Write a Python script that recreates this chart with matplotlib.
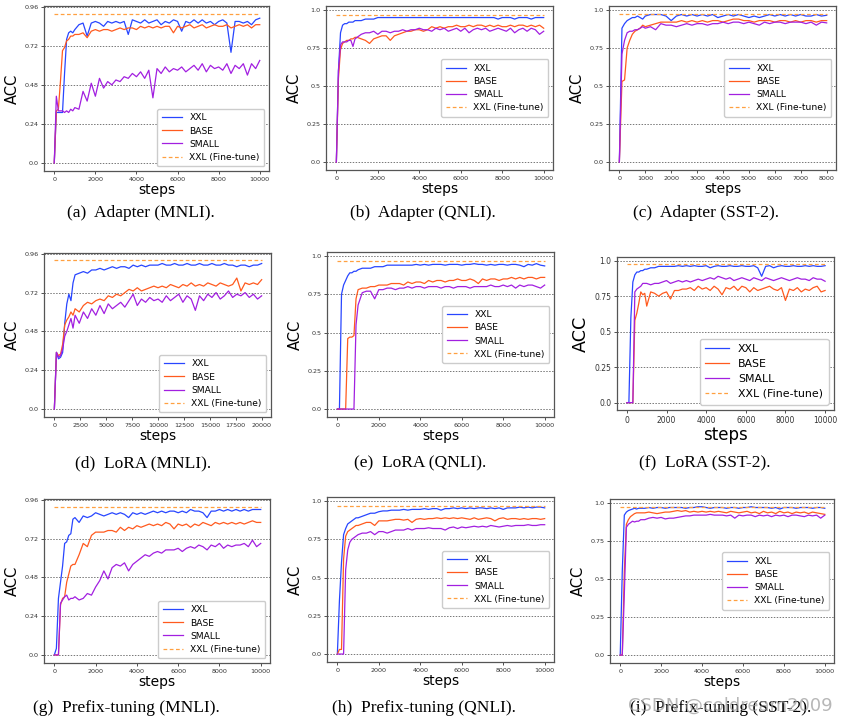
import matplotlib.pyplot as plt

# training steps (finer at the start)
STEPS_10K = list(range(0, 1000, 100)) + list(range(1000, 10001, 200))
STEPS_8K = list(range(0, 1000, 100)) + list(range(1000, 8001, 200))
STEPS_20K = list(range(0, 2000, 200)) + list(range(2000, 20001, 400))

LABELS = ['XXL', 'BASE', 'SMALL', 'XXL (Fine-tune)']
COLORS = ['#2846ff', '#ff5a1e', '#a21fe0', '#ffa040']

# (a) Adapter (MNLI)
a_xxl = [0.0, 0.31, 0.31, 0.31, 0.31, 0.55, 0.76, 0.80, 0.81, 0.80,
         0.82, 0.85, 0.86, 0.78, 0.86, 0.87, 0.86, 0.84, 0.87, 0.86,
         0.87, 0.86, 0.87, 0.79, 0.88, 0.87, 0.86, 0.88, 0.86, 0.87,
         0.88, 0.85, 0.87, 0.86, 0.88, 0.87, 0.81, 0.87, 0.86, 0.88,
         0.86, 0.88, 0.86, 0.87, 0.85, 0.87, 0.88, 0.86, 0.68, 0.87,
         0.87, 0.86, 0.87, 0.85, 0.88, 0.89]
a_base = [0.0, 0.32, 0.33, 0.50, 0.69, 0.71, 0.75, 0.76, 0.78, 0.78,
          0.79, 0.79, 0.80, 0.77, 0.81, 0.82, 0.81, 0.82, 0.82, 0.81,
          0.82, 0.83, 0.82, 0.83, 0.83, 0.82, 0.84, 0.83, 0.84, 0.83,
          0.84, 0.83, 0.84, 0.84, 0.80, 0.84, 0.83, 0.84, 0.85, 0.83,
          0.84, 0.85, 0.83, 0.84, 0.85, 0.84, 0.84, 0.85, 0.83, 0.84,
          0.85, 0.84, 0.85, 0.83, 0.85, 0.85]
a_small = [0.0, 0.41, 0.32, 0.32, 0.32, 0.31, 0.32, 0.31, 0.33, 0.32,
           0.34, 0.33, 0.44, 0.38, 0.49, 0.41, 0.52, 0.46, 0.50, 0.48,
           0.51, 0.50, 0.53, 0.52, 0.55, 0.53, 0.56, 0.52, 0.57, 0.40,
           0.58, 0.55, 0.59, 0.56, 0.58, 0.57, 0.59, 0.56, 0.58, 0.60,
           0.57, 0.61, 0.56, 0.60, 0.58, 0.59, 0.57, 0.61, 0.55, 0.60,
           0.58, 0.61, 0.54, 0.61, 0.58, 0.63]
a_ft = 0.913

# (b) Adapter (QNLI)
b_xxl = [0.0, 0.60, 0.85, 0.90, 0.91, 0.91, 0.92, 0.92, 0.92, 0.93,
         0.93, 0.93, 0.94, 0.94, 0.94, 0.95, 0.95, 0.95, 0.95, 0.95,
         0.95, 0.95, 0.95, 0.95, 0.95, 0.95, 0.95, 0.95, 0.95, 0.95,
         0.95, 0.95, 0.95, 0.95, 0.95, 0.95, 0.95, 0.95, 0.95, 0.95,
         0.95, 0.95, 0.95, 0.95, 0.94, 0.95, 0.95, 0.95, 0.94, 0.95,
         0.95, 0.95, 0.94, 0.95, 0.95, 0.95]
b_base = [0.0, 0.55, 0.74, 0.78, 0.79, 0.80, 0.80, 0.81, 0.81, 0.82,
          0.82, 0.81, 0.80, 0.78, 0.81, 0.82, 0.83, 0.83, 0.80, 0.83,
          0.84, 0.85, 0.86, 0.86, 0.87, 0.87, 0.86, 0.87, 0.89, 0.88,
          0.89, 0.88, 0.89, 0.89, 0.90, 0.89, 0.89, 0.90, 0.89, 0.90,
          0.90, 0.89, 0.90, 0.89, 0.90, 0.89, 0.89, 0.90, 0.89, 0.90,
          0.90, 0.89, 0.90, 0.89, 0.90, 0.88]
b_small = [0.0, 0.60, 0.77, 0.79, 0.79, 0.79, 0.80, 0.80, 0.76, 0.81,
           0.82, 0.84, 0.85, 0.85, 0.86, 0.84, 0.86, 0.86, 0.85, 0.86,
           0.86, 0.87, 0.86, 0.87, 0.87, 0.88, 0.87, 0.87, 0.86, 0.88,
           0.87, 0.88, 0.86, 0.87, 0.88, 0.86, 0.88, 0.85, 0.87, 0.88,
           0.87, 0.88, 0.86, 0.87, 0.88, 0.87, 0.86, 0.88, 0.85, 0.87,
           0.88, 0.86, 0.88, 0.87, 0.84, 0.86]
b_ft = 0.967

# (c) Adapter (SST-2)
c_xxl = [0.0, 0.88, 0.91, 0.93, 0.94, 0.95, 0.95, 0.96, 0.95, 0.94,
         0.96, 0.97, 0.97, 0.97, 0.96, 0.93, 0.96, 0.97, 0.96, 0.97,
         0.96, 0.97, 0.96, 0.97, 0.95, 0.96, 0.97, 0.96, 0.97, 0.96,
         0.95, 0.96, 0.95, 0.96, 0.97, 0.96, 0.97, 0.96, 0.97, 0.96,
         0.97, 0.96, 0.96, 0.97, 0.96, 0.965]
c_base = [0.0, 0.53, 0.54, 0.75, 0.80, 0.84, 0.86, 0.87, 0.88, 0.90,
          0.89, 0.90, 0.91, 0.92, 0.92, 0.92, 0.92, 0.93, 0.92, 0.93,
          0.92, 0.93, 0.92, 0.93, 0.93, 0.92, 0.93, 0.94, 0.94, 0.93,
          0.93, 0.92, 0.93, 0.93, 0.93, 0.92, 0.93, 0.93, 0.92, 0.93,
          0.92, 0.93, 0.93, 0.92, 0.93, 0.93]
c_small = [0.0, 0.71, 0.80, 0.85, 0.86, 0.86, 0.87, 0.87, 0.88, 0.89,
           0.88, 0.89, 0.87, 0.91, 0.90, 0.90, 0.89, 0.90, 0.91, 0.90,
           0.91, 0.91, 0.90, 0.91, 0.91, 0.92, 0.91, 0.92, 0.92, 0.91,
           0.92, 0.91, 0.90, 0.92, 0.91, 0.92, 0.92, 0.91, 0.92, 0.92,
           0.92, 0.91, 0.92, 0.90, 0.92, 0.915]
c_ft = 0.974

# (d) LoRA (MNLI)
d_xxl = [0.0, 0.35, 0.31, 0.32, 0.35, 0.53, 0.65, 0.71, 0.67, 0.78,
         0.83, 0.84, 0.85, 0.84, 0.86, 0.86, 0.87, 0.86, 0.87, 0.88,
         0.87, 0.88, 0.88, 0.87, 0.89, 0.88, 0.89, 0.88, 0.89, 0.89,
         0.89, 0.90, 0.89, 0.89, 0.90, 0.89, 0.89, 0.90, 0.89, 0.89,
         0.90, 0.89, 0.89, 0.90, 0.89, 0.89, 0.90, 0.89, 0.89, 0.88,
         0.89, 0.89, 0.88, 0.89, 0.89, 0.90]
d_base = [0.0, 0.35, 0.33, 0.34, 0.40, 0.52, 0.55, 0.57, 0.60, 0.58,
          0.62, 0.60, 0.64, 0.66, 0.65, 0.67, 0.68, 0.67, 0.70, 0.69,
          0.71, 0.70, 0.72, 0.74, 0.73, 0.75, 0.73, 0.74, 0.75, 0.76,
          0.75, 0.76, 0.75, 0.77, 0.76, 0.75, 0.77, 0.76, 0.78, 0.76,
          0.77, 0.76, 0.78, 0.77, 0.76, 0.78, 0.77, 0.76, 0.77, 0.81,
          0.73, 0.78, 0.77, 0.78, 0.77, 0.80]
d_small = [0.0, 0.35, 0.32, 0.33, 0.37, 0.45, 0.48, 0.52, 0.56, 0.50,
           0.58, 0.53, 0.60, 0.56, 0.62, 0.58, 0.64, 0.59, 0.65, 0.62,
           0.64, 0.66, 0.63, 0.67, 0.71, 0.64, 0.68, 0.66, 0.69, 0.67,
           0.68, 0.66, 0.70, 0.67, 0.69, 0.71, 0.66, 0.70, 0.68, 0.61,
           0.70, 0.67, 0.71, 0.69, 0.72, 0.68, 0.70, 0.73, 0.69, 0.71,
           0.70, 0.72, 0.69, 0.71, 0.68, 0.70]
d_ft = 0.919

# (e) LoRA (QNLI)
e_xxl = [0.0, 0.0, 0.75, 0.81, 0.84, 0.87, 0.89, 0.89, 0.90, 0.90,
         0.91, 0.92, 0.92, 0.92, 0.93, 0.93, 0.93, 0.94, 0.94, 0.94,
         0.94, 0.94, 0.94, 0.94, 0.945, 0.94, 0.945, 0.94, 0.945, 0.945,
         0.945, 0.94, 0.945, 0.945, 0.945, 0.94, 0.945, 0.945, 0.95, 0.945,
         0.945, 0.94, 0.945, 0.94, 0.945, 0.945, 0.94, 0.945, 0.945, 0.94,
         0.93, 0.945, 0.94, 0.95, 0.94, 0.935]
e_base = [0.0, 0.0, 0.0, 0.0, 0.0, 0.46, 0.47, 0.47, 0.48, 0.72,
          0.78, 0.79, 0.79, 0.80, 0.80, 0.81, 0.81, 0.81, 0.82, 0.82,
          0.82, 0.81, 0.83, 0.82, 0.83, 0.83, 0.82, 0.84, 0.83, 0.84,
          0.84, 0.83, 0.84, 0.84, 0.85, 0.84, 0.84, 0.85, 0.84, 0.82,
          0.85, 0.84, 0.85, 0.85, 0.84, 0.85, 0.85, 0.86, 0.85, 0.86,
          0.85, 0.86, 0.86, 0.85, 0.86, 0.86]
e_small = [0.0, 0.0, 0.0, 0.0, 0.0, 0.0, 0.0, 0.0, 0.0, 0.55,
           0.68, 0.76, 0.77, 0.77, 0.72, 0.78, 0.78, 0.79, 0.79, 0.78,
           0.79, 0.79, 0.80, 0.79, 0.80, 0.80, 0.79, 0.80, 0.80, 0.80,
           0.79, 0.80, 0.80, 0.79, 0.80, 0.80, 0.80, 0.79, 0.80, 0.80,
           0.80, 0.80, 0.81, 0.80, 0.80, 0.81, 0.80, 0.81, 0.79, 0.81,
           0.80, 0.81, 0.81, 0.80, 0.79, 0.81]
e_ft = 0.969

# (f) LoRA (SST-2)
f_xxl = [0.0, 0.0, 0.60, 0.85, 0.90, 0.92, 0.92, 0.93, 0.93, 0.94,
         0.94, 0.95, 0.95, 0.96, 0.96, 0.96, 0.96, 0.96, 0.965, 0.96,
         0.965, 0.96, 0.965, 0.96, 0.96, 0.965, 0.95, 0.96, 0.965, 0.96,
         0.96, 0.965, 0.96, 0.96, 0.965, 0.96, 0.96, 0.965, 0.95, 0.89,
         0.96, 0.965, 0.95, 0.96, 0.965, 0.96, 0.96, 0.965, 0.96, 0.96,
         0.965, 0.96, 0.965, 0.96, 0.96, 0.965]
f_base = [0.0, 0.0, 0.0, 0.0, 0.58, 0.63, 0.70, 0.78, 0.76, 0.77,
          0.68, 0.78, 0.77, 0.75, 0.77, 0.78, 0.73, 0.79, 0.79, 0.80,
          0.80, 0.81, 0.79, 0.82, 0.80, 0.81, 0.79, 0.82, 0.80, 0.76,
          0.81, 0.80, 0.82, 0.79, 0.82, 0.81, 0.78, 0.81, 0.79, 0.80,
          0.81, 0.82, 0.80, 0.79, 0.81, 0.72, 0.80, 0.79, 0.81, 0.78,
          0.80, 0.79, 0.81, 0.82, 0.78, 0.79]
f_small = [0.0, 0.0, 0.0, 0.0, 0.78, 0.80, 0.81, 0.82, 0.84, 0.84,
           0.84, 0.83, 0.84, 0.84, 0.85, 0.86, 0.84, 0.85, 0.86, 0.85,
           0.86, 0.85, 0.86, 0.87, 0.86, 0.87, 0.88, 0.87, 0.89, 0.88,
           0.87, 0.88, 0.86, 0.87, 0.88, 0.87, 0.86, 0.88, 0.87, 0.86,
           0.88, 0.87, 0.86, 0.87, 0.88, 0.87, 0.86, 0.87, 0.88, 0.87,
           0.87, 0.86, 0.88, 0.87, 0.87, 0.855]
f_ft = 0.974

# (g) Prefix-tuning (MNLI)
g_xxl = [0.0, 0.04, 0.35, 0.45, 0.55, 0.69, 0.70, 0.74, 0.75, 0.84,
         0.85, 0.82, 0.86, 0.85, 0.86, 0.88, 0.87, 0.86, 0.87, 0.88,
         0.87, 0.88, 0.87, 0.85, 0.88, 0.87, 0.88, 0.87, 0.88, 0.89,
         0.88, 0.89, 0.88, 0.89, 0.89, 0.88, 0.89, 0.88, 0.90, 0.89,
         0.89, 0.88, 0.85, 0.89, 0.89, 0.90, 0.89, 0.90, 0.89, 0.90,
         0.89, 0.90, 0.89, 0.90, 0.90, 0.90]
g_base = [0.0, 0.0, 0.0, 0.31, 0.35, 0.36, 0.45, 0.50, 0.55, 0.56,
          0.56, 0.62, 0.69, 0.67, 0.74, 0.76, 0.76, 0.76, 0.77, 0.77,
          0.76, 0.79, 0.77, 0.79, 0.78, 0.80, 0.79, 0.80, 0.81, 0.80,
          0.81, 0.80, 0.82, 0.81, 0.78, 0.81, 0.80, 0.81, 0.79, 0.81,
          0.80, 0.82, 0.81, 0.80, 0.82, 0.81, 0.82, 0.81, 0.82, 0.81,
          0.82, 0.81, 0.82, 0.83, 0.82, 0.82]
g_small = [0.0, 0.0, 0.0, 0.32, 0.34, 0.36, 0.37, 0.34, 0.35, 0.35,
           0.36, 0.34, 0.35, 0.38, 0.37, 0.42, 0.46, 0.52, 0.47, 0.54,
           0.56, 0.55, 0.57, 0.52, 0.56, 0.58, 0.60, 0.62, 0.61, 0.63,
           0.64, 0.63, 0.65, 0.65, 0.65, 0.66, 0.64, 0.66, 0.67, 0.66,
           0.68, 0.67, 0.65, 0.68, 0.67, 0.69, 0.66, 0.68, 0.67, 0.68,
           0.68, 0.69, 0.67, 0.71, 0.67, 0.69]
g_ft = 0.918

# (h) Prefix-tuning (QNLI)
h_xxl = [0.0, 0.35, 0.60, 0.78, 0.82, 0.85, 0.86, 0.87, 0.88, 0.89,
         0.89, 0.90, 0.91, 0.92, 0.92, 0.93, 0.935, 0.935, 0.94, 0.94,
         0.94, 0.945, 0.94, 0.945, 0.945, 0.945, 0.95, 0.945, 0.95, 0.95,
         0.94, 0.95, 0.95, 0.955, 0.95, 0.955, 0.95, 0.955, 0.95, 0.955,
         0.955, 0.95, 0.955, 0.95, 0.955, 0.945, 0.955, 0.955, 0.955, 0.96,
         0.955, 0.96, 0.955, 0.96, 0.96, 0.955]
h_base = [0.0, 0.03, 0.03, 0.62, 0.77, 0.80, 0.81, 0.82, 0.83, 0.84,
          0.84, 0.85, 0.86, 0.86, 0.84, 0.87, 0.87, 0.87, 0.875, 0.88,
          0.88, 0.875, 0.88, 0.86, 0.88, 0.885, 0.88, 0.885, 0.885, 0.89,
          0.885, 0.89, 0.885, 0.89, 0.885, 0.89, 0.885, 0.88, 0.89, 0.88,
          0.885, 0.89, 0.885, 0.87, 0.885, 0.89, 0.88, 0.885, 0.885, 0.88,
          0.885, 0.88, 0.885, 0.885, 0.88, 0.885]
h_small = [0.0, 0.0, 0.0, 0.0, 0.55, 0.68, 0.73, 0.75, 0.76, 0.77,
           0.78, 0.79, 0.79, 0.80, 0.78, 0.80, 0.80, 0.79, 0.80, 0.81,
           0.81, 0.81, 0.82, 0.81, 0.82, 0.82, 0.82, 0.825, 0.82, 0.82,
           0.82, 0.81, 0.825, 0.83, 0.82, 0.83, 0.825, 0.83, 0.835, 0.83,
           0.835, 0.83, 0.84, 0.835, 0.83, 0.835, 0.84, 0.835, 0.84, 0.84,
           0.84, 0.845, 0.84, 0.84, 0.845, 0.845]
h_ft = 0.970

# (i) Prefix-tuning (SST-2)
i_xxl = [0.0, 0.55, 0.92, 0.94, 0.95, 0.955, 0.96, 0.965, 0.96, 0.965,
         0.965, 0.965, 0.97, 0.965, 0.97, 0.97, 0.965, 0.97, 0.97, 0.97,
         0.97, 0.965, 0.97, 0.97, 0.975, 0.975, 0.97, 0.965, 0.97, 0.97,
         0.97, 0.965, 0.97, 0.97, 0.965, 0.97, 0.97, 0.975, 0.97, 0.97,
         0.97, 0.97, 0.965, 0.97, 0.96, 0.97, 0.97, 0.97, 0.965, 0.97,
         0.97, 0.97, 0.965, 0.97, 0.97, 0.965]
i_base = [0.0, 0.0, 0.55, 0.86, 0.89, 0.91, 0.92, 0.93, 0.935, 0.935,
          0.935, 0.935, 0.94, 0.935, 0.93, 0.935, 0.94, 0.94, 0.945, 0.95,
          0.945, 0.95, 0.94, 0.945, 0.94, 0.945, 0.94, 0.945, 0.94, 0.945,
          0.94, 0.935, 0.945, 0.94, 0.935, 0.94, 0.945, 0.935, 0.94, 0.93,
          0.945, 0.935, 0.94, 0.93, 0.945, 0.935, 0.94, 0.93, 0.94, 0.935,
          0.94, 0.93, 0.94, 0.935, 0.93, 0.925]
i_small = [0.0, 0.0, 0.40, 0.84, 0.86, 0.87, 0.88, 0.875, 0.88, 0.88,
           0.89, 0.89, 0.90, 0.905, 0.90, 0.905, 0.895, 0.90, 0.90, 0.905,
           0.91, 0.915, 0.915, 0.92, 0.92, 0.92, 0.92, 0.925, 0.92, 0.92,
           0.92, 0.915, 0.92, 0.90, 0.92, 0.915, 0.92, 0.92, 0.91, 0.92,
           0.915, 0.92, 0.91, 0.92, 0.915, 0.92, 0.91, 0.92, 0.92, 0.915,
           0.91, 0.92, 0.915, 0.92, 0.90, 0.92]
i_ft = 0.976

Y_MNLI = [0.0, 0.24, 0.48, 0.72, 0.96]
Y_MNLI_LABELS = ['0.0', '0.24', '0.48', '0.72', '0.96']
Y_ACC = [0.0, 0.25, 0.5, 0.75, 1.0]
Y_ACC_LABELS = ['0.0', '0.25', '0.5', '0.75', '1.0']

# pixel boxes of each panel (left, top, right, bottom), caption centre, legend loc, font scale
panels = [
    ('(a)  Adapter (MNLI).', STEPS_10K, a_xxl, a_base, a_small, a_ft, 'mnli', (44, 6, 269, 171), (141, 213), 'lower right', 1.0),
    ('(b)  Adapter (QNLI).', STEPS_10K, b_xxl, b_base, b_small, b_ft, 'acc', (326, 6, 553, 170), (423, 213), 'center right', 1.0),
    ('(c)  Adapter (SST-2).', STEPS_8K, c_xxl, c_base, c_small, c_ft, 'acc', (609, 6, 836, 170), (706, 213), 'center right', 1.0),
    ('(d)  LoRA (MNLI).', STEPS_20K, d_xxl, d_base, d_small, d_ft, 'mnli', (44, 253, 271, 417), (143, 463), 'lower right', 1.0),
    ('(e)  LoRA (QNLI).', STEPS_10K, e_xxl, e_base, e_small, e_ft, 'acc', (327, 252, 554, 417), (420, 463), 'center right', 1.0),
    ('(f)  LoRA (SST-2).', STEPS_10K, f_xxl, f_base, f_small, f_ft, 'acc', (617, 257, 834, 410), (705, 463), 'lower right', 1.2),
    ('(g)  Prefix-tuning (MNLI).', STEPS_10K, g_xxl, g_base, g_small, g_ft, 'mnli', (44, 499, 270, 663), (126, 708), 'lower right', 1.0),
    ('(h)  Prefix-tuning (QNLI).', STEPS_10K, h_xxl, h_base, h_small, h_ft, 'acc', (327, 497, 554, 662), (424, 708), 'center right', 1.0),
    ('(i)  Prefix-tuning (SST-2).', STEPS_10K, i_xxl, i_base, i_small, i_ft, 'acc', (610, 499, 834, 663), (721, 708), 'center right', 1.0),
]

W, H = 847, 723
fig = plt.figure(figsize=(W / 100, H / 100), dpi=100)

for caption, steps, xxl, base, small, ft, kind, box, cap, loc, sc in panels:
    l, t, r, b = box
    ax = fig.add_axes([l / W, 1 - b / H, (r - l) / W, (b - t) / H])
    for ys, c, lab in zip([xxl, base, small], COLORS[:3], LABELS[:3]):
        ax.plot(steps, ys, color=c, lw=0.9, label=lab)
    ax.plot([steps[0], steps[-1]], [ft, ft], color=COLORS[3], lw=0.9,
            ls=(0, (3, 2)), label=LABELS[3])

    if kind == 'mnli':
        ax.set_yticks(Y_MNLI)
        ax.set_yticklabels(Y_MNLI_LABELS)
        ax.set_ylim(-0.05, 0.965)
    else:
        ax.set_yticks(Y_ACC)
        ax.set_yticklabels(Y_ACC_LABELS)
        ax.set_ylim(-0.052, 1.026)
    span = steps[-1]
    if span == 8000:
        ax.set_xticks(range(0, 8001, 1000))
    elif span == 20000:
        ax.set_xticks(range(0, 20001, 2500))
    else:
        ax.set_xticks(range(0, 10001, 2000))
    ax.set_xlim(-0.05 * span, 1.045 * span)

    ax.grid(axis='y', color='#777777', ls=(0, (1.5, 1.5)), lw=0.7)
    ax.tick_params(labelsize=4.6 * sc, length=2.5, width=0.6, colors='#333333', pad=1.5)
    for sp in ax.spines.values():
        sp.set_color('#555555')
        sp.set_linewidth(0.9)
    ax.set_xlabel('steps', fontsize=10 * sc, labelpad=1)
    ax.set_ylabel('ACC', fontsize=10.5 * sc, labelpad=3)
    ax.legend(loc=loc, fontsize=6.6 * (1.2 if sc > 1 else 1.0), handlelength=2.2,
              borderpad=0.5, labelspacing=0.45, framealpha=1, edgecolor='#cccccc')

    fig.text(cap[0] / W, 1 - cap[1] / H, caption, ha='center', va='center',
             fontsize=12.5, family='Liberation Serif')

fig.text(833 / W, 1 - 706 / H, 'CSDN @coldream2009', ha='right', va='center',
         fontsize=13, color='#999999', alpha=0.7)

plt.savefig('out.png', dpi=100)
